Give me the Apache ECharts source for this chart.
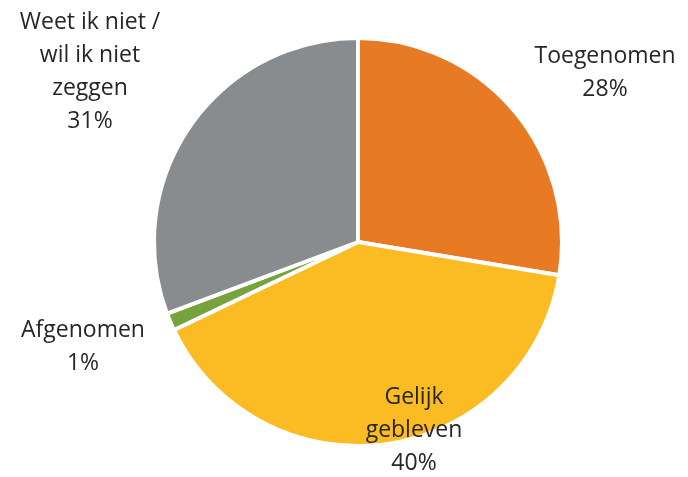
<!DOCTYPE html>
<html>
<head>
<meta charset="utf-8">
<script src="https://cdn.jsdelivr.net/npm/echarts@6/dist/echarts.min.js"></script>
<style>
  html, body { margin: 0; padding: 0; background: #fff; }
  #chart { width: 688px; height: 477px; }
</style>
</head>
<body>
<div id="chart"></div>
<script>
// slice names and shares (%)
const categories = ['Toegenomen', 'Gelijk\ngebleven', 'Afgenomen', 'Weet ik niet /\nwil ik niet\nzeggen']
const values = [27.6, 40.3, 1.4, 30.7]
const colors = ['#E97A24', '#FBBC23', '#77A23E', '#898C8F']

// hand-placed label centres, like in the original
const labelSpots = [[605, 73], [414, 430], [83, 347], [90, 72]]

const myChart = echarts.init(document.getElementById('chart'))

const option = {
  backgroundColor: '#fff',
  animation: false,
  series: [{
    type: 'pie',
    center: [358, 242],
    radius: [0, 204],
    startAngle: 90,
    clockwise: true,
    itemStyle: { borderColor: '#fff', borderWidth: 4 },
    label: {
      show: true,
      position: 'inside',
      rotate: 0,
      overflow: 'none',
      color: '#262626',
      fontFamily: 'Open Sans',
      fontSize: 23,
      lineHeight: 33,
      align: 'center',
      formatter: p => p.name + '\n' + Math.round(p.value) + '%'
    },
    labelLine: { show: false },
    labelLayout: p => ({
      x: labelSpots[p.dataIndex][0],
      y: labelSpots[p.dataIndex][1],
      align: 'center',
      verticalAlign: 'middle'
    }),
    data: categories.map((name, i) => ({
      name,
      value: values[i],
      itemStyle: { color: colors[i] }
    }))
  }]
}

myChart.setOption(option)
</script>
</body>
</html>
